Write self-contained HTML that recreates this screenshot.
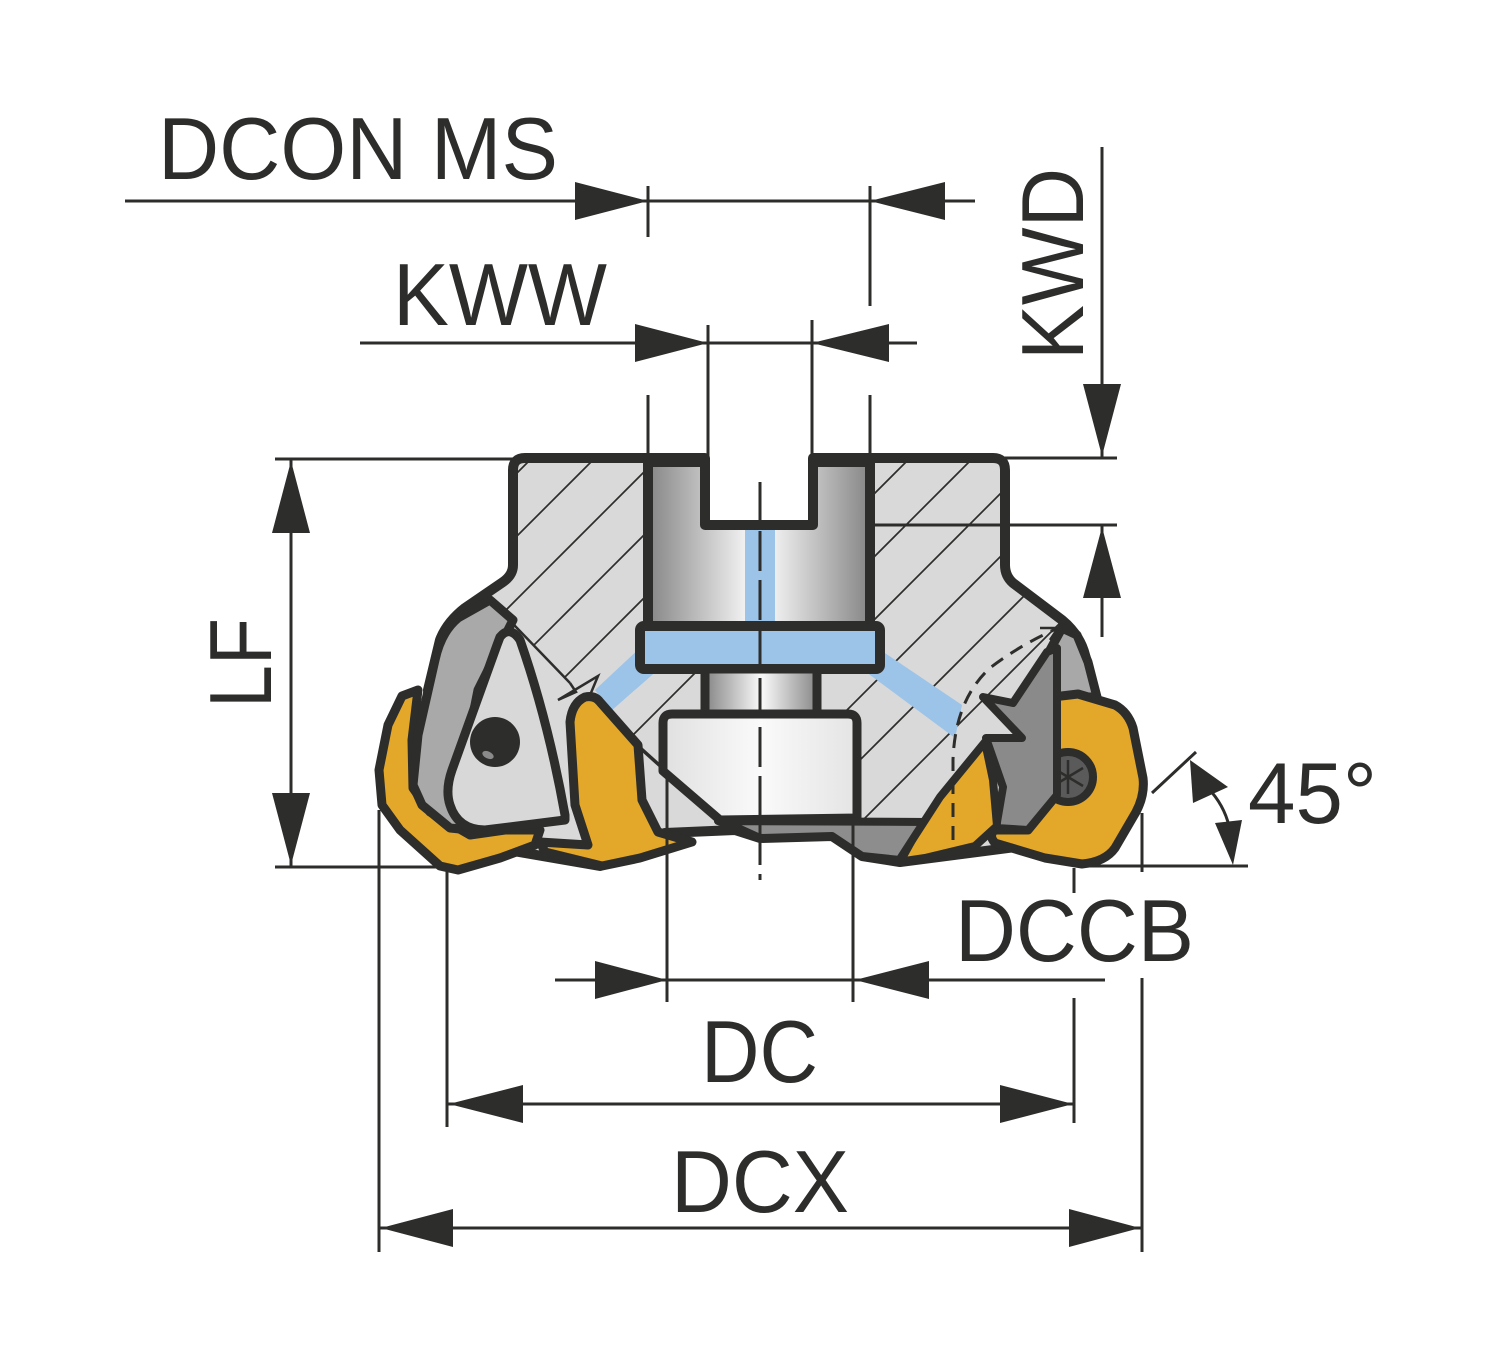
<!DOCTYPE html>
<html>
<head>
<meta charset="utf-8">
<style>
  html, body { margin: 0; padding: 0; background: #ffffff; }
  svg { display: block; }
  text { font-family: "Liberation Sans", Arial, sans-serif; fill: #2d2d2b; }
</style>
</head>
<body>
<svg width="1500" height="1369" viewBox="0 0 1500 1369" xmlns="http://www.w3.org/2000/svg">
  <defs>
    <pattern id="hatch" patternUnits="userSpaceOnUse" width="63" height="63">
      <path d="M-5,50 L50,-5 M40,68 L68,40" stroke="#2d2d2b" stroke-width="1.7" fill="none"/>
    </pattern>
    <linearGradient id="gb" gradientUnits="userSpaceOnUse" x1="650" y1="0" x2="868" y2="0">
      <stop offset="0" stop-color="#888888"/>
      <stop offset="0.45" stop-color="#f4f4f4"/>
      <stop offset="0.55" stop-color="#f4f4f4"/>
      <stop offset="1" stop-color="#888888"/>
    </linearGradient>
    <linearGradient id="gn" gradientUnits="userSpaceOnUse" x1="708" y1="0" x2="815" y2="0">
      <stop offset="0" stop-color="#8c8c8c"/>
      <stop offset="0.48" stop-color="#f6f6f6"/>
      <stop offset="0.52" stop-color="#f6f6f6"/>
      <stop offset="1" stop-color="#8c8c8c"/>
    </linearGradient>
    <linearGradient id="gs" gradientUnits="userSpaceOnUse" x1="663" y1="0" x2="857" y2="0">
      <stop offset="0" stop-color="#e0e0e0"/>
      <stop offset="0.5" stop-color="#fafafa"/>
      <stop offset="1" stop-color="#e4e4e4"/>
    </linearGradient>
    <clipPath id="hclip">
      <polygon points="513,458 705,458 705,525 813,525 813,458 1005,458 1005,578 1062,620 1057,640 1050,650 1013,703 983,697 985,738 990,760 940,797 927,818 717,818 587,700 570,683 490,600 513,578"/>
    </clipPath>
  </defs>

  <!-- ============ BODY ============ -->
  <path d="M 525,458 L 705,458 L 705,525 L 813,525 L 813,458 L 993,458 Q 1005,458 1005,470 L 1005,565 Q 1005,576 1013,583 L 1062,620 Q 1080,635 1085,655 L 1097,700 L 1070,840 L 900,862 L 862,856 L 832,836 L 760,838 L 735,830 L 665,833 L 600,866 L 450,840 L 428,690 L 440,640 Q 447,622 465,608 L 503,582 Q 513,575 513,565 L 513,470 Q 513,458 525,458 Z"
        fill="#d9d9d9" stroke="#2d2d2b" stroke-width="10" stroke-linejoin="round"/>
  <rect x="480" y="440" width="640" height="440" fill="url(#hatch)" clip-path="url(#hclip)"/>

  <!-- blue diagonal coolant channels -->
  <polygon points="643,645 660,668 611,711 595,690" fill="#9cc3e8"/>
  <polygon points="873,645 962,705 955,738 866,672" fill="#9cc3e8"/>

  <!-- thin boundary lines, left -->
  <line x1="490" y1="600" x2="570" y2="683" stroke="#2d2d2b" stroke-width="2.5"/>
  <polyline points="570,683 576,692 558,700 598,676 588,700" fill="none" stroke="#2d2d2b" stroke-width="2.5" stroke-linejoin="miter"/>
  <line x1="587" y1="700" x2="718" y2="818" stroke="#2d2d2b" stroke-width="3.5"/>

  <!-- bore -->
  <path d="M 648,462 L 705,462 L 705,525 L 813,525 L 813,462 L 870,462 L 870,626 L 648,626 Z"
        fill="url(#gb)" stroke="#2d2d2b" stroke-width="10" stroke-linejoin="round"/>
  <!-- blue vertical channel -->
  <rect x="745" y="530" width="30" height="93" fill="#9cc3e8"/>
  <!-- flange -->
  <rect x="640" y="626" width="240" height="43" rx="4" fill="#9cc3e8" stroke="#2d2d2b" stroke-width="10"/>
  <!-- neck -->
  <rect x="705" y="669" width="112" height="45" fill="url(#gn)" stroke="#2d2d2b" stroke-width="9"/>
  <!-- screw head -->
  <path d="M 672,714 L 848,714 Q 857,714 857,723 L 857,818 L 720,820 L 663,771 L 663,723 Q 663,714 672,714 Z"
        fill="url(#gs)" stroke="#2d2d2b" stroke-width="9" stroke-linejoin="round"/>
  <!-- bottom dark piece -->
  <polygon points="718,821 930,822 900,860 862,856 832,836 760,838 738,828" fill="#8d8d8d" stroke="#2d2d2b" stroke-width="8" stroke-linejoin="round"/>

  <!-- centre line -->
  <line x1="760" y1="482" x2="760" y2="880" stroke="#2d2d2b" stroke-width="3" stroke-dasharray="40 9"/>

  <!-- ============ LEFT INSERTS ============ -->
  <polygon points="418,690 402,696 388,725 379,770 382,805 400,830 440,866 458,870 500,858 535,845 540,830 505,830 470,835 430,812 413,788 412,740"
           fill="#e3a72a" stroke="#2d2d2b" stroke-width="9" stroke-linejoin="round"/>
  <path d="M 490,600 L 513,620 L 478,690 L 460,780 L 470,830 L 450,828 L 422,805 L 413,785 L 418,735 L 435,660 Q 441,632 458,618 Z"
        fill="#a9a9a9" stroke="#2d2d2b" stroke-width="9" stroke-linejoin="round"/>
  <path d="M 500,637 Q 510,625 520,640 Q 548,720 565,815 L 565,820 L 485,830 Q 458,830 450,805 Q 445,790 452,770 L 497,645 Z"
        fill="#d8d8d8" stroke="#2d2d2b" stroke-width="9" stroke-linejoin="round"/>
  <circle cx="495" cy="742" r="25" fill="#2d2d2b"/>
  <ellipse cx="488" cy="755" rx="6" ry="3.5" fill="#8a8a8a" transform="rotate(25 488 755)"/>

  <path d="M 585,697 Q 595,695 600,702 L 638,745 L 642,800 L 658,832 L 692,842 L 640,858 L 602,866 L 545,852 L 540,842 L 588,845 L 575,805 L 570,722 Q 572,703 585,697 Z"
        fill="#e3a72a" stroke="#2d2d2b" stroke-width="9" stroke-linejoin="round"/>

  <!-- ============ RIGHT INSERTS ============ -->
  <polygon points="1050,650 1062,628 1077,635 1088,662 1097,697 1053,697" fill="#a8a8a8" stroke="#2d2d2b" stroke-width="9" stroke-linejoin="round"/>
  <path d="M 1053,697 L 1078,694 L 1115,705 Q 1128,712 1133,728 L 1143,778 Q 1145,795 1136,812 L 1115,848 Q 1105,862 1082,864 L 1045,858 L 995,843 Q 988,835 995,830 L 1028,830 L 1055,797 Z"
        fill="#e3a72a" stroke="#2d2d2b" stroke-width="9" stroke-linejoin="round"/>
  <circle cx="1068" cy="777" r="25" fill="#5a5a5a" stroke="#2d2d2b" stroke-width="8"/>
  <path d="M 1068,760 L 1068,794 M 1053,768 L 1083,786 M 1053,786 L 1083,768" stroke="#2d2d2b" stroke-width="2.5"/>
  <polygon points="1047,652 1057,648 1057,795 1028,830 996,828 1003,787 986,738 1022,738 983,697 1013,703"
           fill="#8a8a8a" stroke="#2d2d2b" stroke-width="8" stroke-linejoin="round"/>
  <polygon points="985,742 993,780 997,826 975,846 925,858 898,862 940,797" fill="#e3a72a" stroke="#2d2d2b" stroke-width="8" stroke-linejoin="round"/>
  <line x1="937" y1="800" x2="905" y2="858" stroke="#2d2d2b" stroke-width="3"/>

  <!-- dashed arc -->
  <path d="M 953,840 L 953,760 Q 955,700 990,668 Q 1020,645 1056,629" fill="none" stroke="#2d2d2b" stroke-width="3" stroke-dasharray="14 9"/>
  <polyline points="1040,628 1058,628 1050,640" fill="none" stroke="#2d2d2b" stroke-width="2.5"/>

  <!-- ============ DIMENSIONS ============ -->
  <g stroke="#2d2d2b" stroke-width="3" fill="none">
    <!-- DCON MS -->
    <line x1="125" y1="201" x2="975" y2="201"/>
    <line x1="648" y1="186" x2="648" y2="237"/>
    <line x1="870" y1="186" x2="870" y2="306"/>
    <line x1="648" y1="395" x2="648" y2="458"/>
    <line x1="870" y1="395" x2="870" y2="458"/>
    <!-- KWW -->
    <line x1="360" y1="343" x2="917" y2="343"/>
    <line x1="708" y1="325" x2="708" y2="458"/>
    <line x1="812" y1="320" x2="812" y2="458"/>
    <!-- KWD -->
    <line x1="1102" y1="147" x2="1102" y2="458"/>
    <line x1="1102" y1="525" x2="1102" y2="637"/>
    <line x1="1000" y1="458" x2="1117" y2="458"/>
    <line x1="870" y1="525" x2="1117" y2="525"/>
    <!-- LF -->
    <line x1="291" y1="459" x2="291" y2="867"/>
    <line x1="275" y1="459" x2="515" y2="459"/>
    <line x1="275" y1="867" x2="445" y2="867"/>
    <!-- 45 deg -->
    <line x1="1152" y1="793" x2="1196" y2="752"/>
    <line x1="1090" y1="866" x2="1248" y2="866"/>
    <path d="M 1208,788 Q 1224,805 1229,826"/>
    <!-- DCCB -->
    <line x1="555" y1="980" x2="1105" y2="980"/>
    <line x1="667" y1="775" x2="667" y2="1002"/>
    <line x1="853" y1="825" x2="853" y2="1002"/>
    <!-- DC -->
    <line x1="447" y1="1104" x2="1075" y2="1104"/>
    <line x1="447" y1="870" x2="447" y2="1127"/>
    <line x1="1074" y1="868" x2="1074" y2="893"/>
    <line x1="1074" y1="998" x2="1074" y2="1123"/>
    <!-- DCX -->
    <line x1="379" y1="1228" x2="1141" y2="1228"/>
    <line x1="379" y1="810" x2="379" y2="1252"/>
    <line x1="1142" y1="813" x2="1142" y2="872"/>
    <line x1="1142" y1="978" x2="1142" y2="1252"/>
  </g>

  <g fill="#2d2d2b">
    <polygon points="648,201 575,182 575,220"/>
    <polygon points="870,201 945,182 945,220"/>
    <polygon points="708,343 635,324 635,362"/>
    <polygon points="812,343 889,324 889,362"/>
    <polygon points="1102,456 1083,384 1121,384"/>
    <polygon points="1102,527 1083,598 1121,598"/>
    <polygon points="291,461 272,533 310,533"/>
    <polygon points="291,865 272,793 310,793"/>
    <polygon points="1190,760 1193,803 1228,787"/>
    <polygon points="1233,865 1215,823 1242,820"/>
    <polygon points="667,980 595,961 595,999"/>
    <polygon points="855,980 929,961 929,999"/>
    <polygon points="449,1104 523,1085 523,1123"/>
    <polygon points="1073,1104 1000,1085 1000,1123"/>
    <polygon points="381,1228 453,1209 453,1247"/>
    <polygon points="1140,1228 1069,1209 1069,1247"/>
  </g>

  <!-- ============ LABELS ============ -->
  <text x="158" y="179" font-size="88" textLength="400" lengthAdjust="spacingAndGlyphs">DCON MS</text>
  <text x="393" y="325" font-size="88" textLength="214" lengthAdjust="spacingAndGlyphs">KWW</text>
  <text transform="translate(1083,360) rotate(-90)" font-size="88" textLength="192" lengthAdjust="spacingAndGlyphs">KWD</text>
  <text transform="translate(271,708) rotate(-90)" font-size="88" textLength="90" lengthAdjust="spacingAndGlyphs">LF</text>
  <text x="1248" y="823" font-size="86" textLength="129" lengthAdjust="spacingAndGlyphs">45°</text>
  <text x="955" y="961" font-size="88" textLength="239" lengthAdjust="spacingAndGlyphs">DCCB</text>
  <text x="701" y="1082" font-size="88" textLength="117" lengthAdjust="spacingAndGlyphs">DC</text>
  <text x="671" y="1212" font-size="88" textLength="178" lengthAdjust="spacingAndGlyphs">DCX</text>
</svg>
</body>
</html>
